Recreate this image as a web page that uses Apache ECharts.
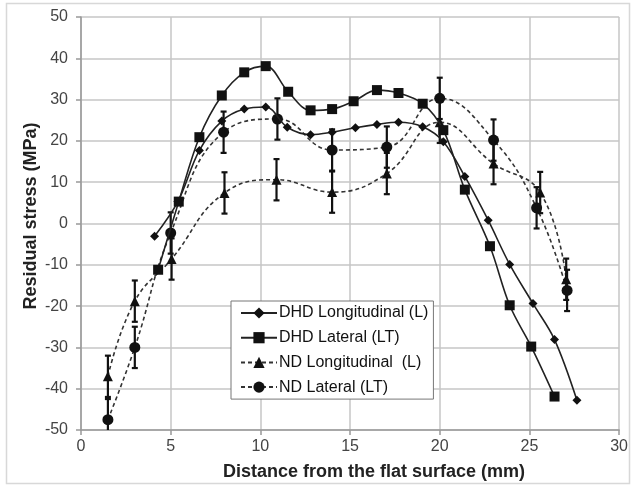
<!DOCTYPE html>
<html>
<head>
<meta charset="utf-8">
<script src="https://cdn.jsdelivr.net/npm/echarts@6/dist/echarts.min.js"></script>
<style>
html,body{margin:0;padding:0;background:#fff;}
#chart{width:631px;height:486px;}
</style>
</head>
<body>
<div id="chart"></div>
<script>
// ---- data ----
var xTicks = [0, 5, 10, 15, 20, 25, 30];
var yTicks = [-50, -40, -30, -20, -10, 0, 10, 20, 30, 40, 50];

var dhdLongX = [4.1, 5.4, 6.6, 7.85, 9.1, 10.3, 11.5, 12.8, 14.0, 15.3, 16.5, 17.7, 19.05, 20.2, 21.4, 22.7, 23.9, 25.2, 26.4, 27.65];
var dhdLongY = [-3.1, 5.3, 17.7, 24.8, 27.7, 28.2, 23.3, 21.5, 22.1, 23.2, 24.0, 24.5, 23.4, 19.8, 11.4, 0.8, -9.9, -19.4, -28.1, -42.8];

var dhdLatX = [4.3, 5.45, 6.6, 7.85, 9.1, 10.3, 11.55, 12.8, 14.0, 15.2, 16.5, 17.7, 19.05, 20.2, 21.4, 22.8, 23.9, 25.1, 26.4];
var dhdLatY = [-11.2, 5.3, 20.9, 31.0, 36.6, 38.1, 31.9, 27.4, 27.7, 29.6, 32.3, 31.6, 29.0, 22.6, 8.2, -5.5, -19.8, -29.8, -41.9];

var ndLongX = [1.5, 3.0, 5.05, 8.0, 10.9, 14.0, 17.05, 20.0, 23.0, 25.6, 27.05];
var ndLongY = [-37, -18.8, -8.6, 7.4, 10.6, 7.6, 12.1, 24.5, 14.5, 7.5, -13.5];
var ndLongErr = [5, 5, 5, 5, 5, 5, 5, 5, 5, 5, 5];

var ndLatX = [1.5, 3.0, 5.0, 7.95, 10.95, 14.0, 17.05, 20.0, 23.0, 25.4, 27.1];
var ndLatY = [-47.5, -30, -2.3, 22.1, 25.3, 17.8, 18.5, 30.3, 20.2, 3.8, -16.2];
var ndLatErr = [5, 5, 5, 5, 5, 5, 5, 5, 5, 5, 5];

var names = ['DHD Longitudinal (L)', 'DHD Lateral (LT)', 'ND Longitudinal  (L)', 'ND Lateral (LT)'];

function zip(xs, ys) { return xs.map(function (x, i) { return [x, ys[i]]; }); }
function errData(xs, ys, es) { return xs.map(function (x, i) { return [x, ys[i] - es[i], ys[i] + es[i]]; }); }

function errorSeries(data) {
  return {
    type: 'custom',
    z: 4,
    silent: true,
    clip: true,
    data: data,
    encode: { x: 0, y: [1, 2] },
    renderItem: function (params, api) {
      var x = api.value(0);
      var lo = api.coord([x, api.value(1)]);
      var hi = api.coord([x, api.value(2)]);
      var cap = 3;
      var st = { stroke: '#111', lineWidth: 2.2 };
      return {
        type: 'group',
        children: [
          { type: 'line', shape: { x1: lo[0], y1: lo[1], x2: hi[0], y2: hi[1] }, style: st },
          { type: 'line', shape: { x1: lo[0] - cap, y1: lo[1], x2: lo[0] + cap, y2: lo[1] }, style: st },
          { type: 'line', shape: { x1: hi[0] - cap, y1: hi[1], x2: hi[0] + cap, y2: hi[1] }, style: st }
        ]
      };
    }
  };
}

var chart = echarts.init(document.getElementById('chart'), null, { renderer: 'canvas' });
var FONT = 'Liberation Sans, Arial, sans-serif';

var option = {
  animation: false,
  backgroundColor: '#fff',
  textStyle: { fontFamily: FONT },
  grid: { left: 81, right: 10, top: 17, bottom: 56, containLabel: false },
  xAxis: {
    type: 'value', min: 0, max: 30, interval: 5,
    axisLine: { show: true, onZero: false, lineStyle: { color: '#999', width: 1.5 } },
    axisTick: { show: true, length: 5, lineStyle: { color: '#999', width: 1.5 } },
    axisLabel: { color: '#444', fontSize: 16, margin: 9, fontFamily: FONT,
      formatter: function (v) { return xTicks.indexOf(v) >= 0 ? String(v) : ''; } },
    splitLine: { show: true, lineStyle: { color: '#c6c6c6', width: 1.5 } }
  },
  yAxis: {
    type: 'value', min: -50, max: 50, interval: 10,
    axisLine: { show: true, onZero: false, lineStyle: { color: '#999', width: 1.5 } },
    axisTick: { show: true, length: 5, lineStyle: { color: '#999', width: 1.5 } },
    axisLabel: { color: '#444', fontSize: 16, margin: 13, fontFamily: FONT,
      formatter: function (v) { return yTicks.indexOf(v) >= 0 ? String(v) : ''; } },
    splitLine: { show: true, lineStyle: { color: '#c6c6c6', width: 1.5 } }
  },
  legend: {
    data: names,
    orient: 'vertical',
    left: 231, top: 301,
    padding: [4, 5, 4, 9],
    itemWidth: 36, itemHeight: 14, itemGap: 8.7,
    backgroundColor: '#fff',
    borderColor: '#777', borderWidth: 1, borderRadius: 0,
    textStyle: { fontSize: 16, color: '#111', fontFamily: FONT, padding: [0, 0, 0, -3] }
  },
  graphic: [
    { type: 'rect', shape: { x: 6.5, y: 3.5, width: 623, height: 480 }, style: { fill: 'none', stroke: '#d8d8d8', lineWidth: 1.5 }, silent: true, z: -10 },
    { type: 'text', x: 374, y: 472, style: { text: 'Distance from the flat surface (mm)', font: 'bold 18px ' + FONT, fill: '#222', textAlign: 'center', textVerticalAlign: 'middle' } },
    { type: 'text', x: 31, y: 216, rotation: Math.PI / 2, style: { text: 'Residual stress (MPa)', font: 'bold 18px ' + FONT, fill: '#222', textAlign: 'center', textVerticalAlign: 'middle' } }
  ],
  series: [
    errorSeries(errData(ndLongX, ndLongY, ndLongErr)),
    errorSeries(errData(ndLatX, ndLatY, ndLatErr)),
    {
      name: names[2], type: 'line', data: zip(ndLongX, ndLongY), smooth: 0.45, z: 3,
      symbol: 'triangle', symbolSize: 10,
      lineStyle: { color: '#333', width: 1.6, type: [4, 3] },
      itemStyle: { color: '#111', borderWidth: 0 }
    },
    {
      name: names[3], type: 'line', data: zip(ndLatX, ndLatY), smooth: 0.45, z: 3,
      symbol: 'circle', symbolSize: 11,
      lineStyle: { color: '#333', width: 1.6, type: [4, 3] },
      itemStyle: { color: '#111', borderWidth: 0 }
    },
    {
      name: names[0], type: 'line', data: zip(dhdLongX, dhdLongY), smooth: 0.35, z: 5,
      symbol: 'diamond', symbolSize: 9,
      lineStyle: { color: '#222', width: 1.6 },
      itemStyle: { color: '#111', borderWidth: 0 }
    },
    {
      name: names[1], type: 'line', data: zip(dhdLatX, dhdLatY), smooth: 0.35, z: 5,
      symbol: 'rect', symbolSize: 10,
      lineStyle: { color: '#222', width: 1.6 },
      itemStyle: { color: '#111', borderWidth: 0 }
    }
  ]
};
chart.setOption(option);
</script>
</body>
</html>
